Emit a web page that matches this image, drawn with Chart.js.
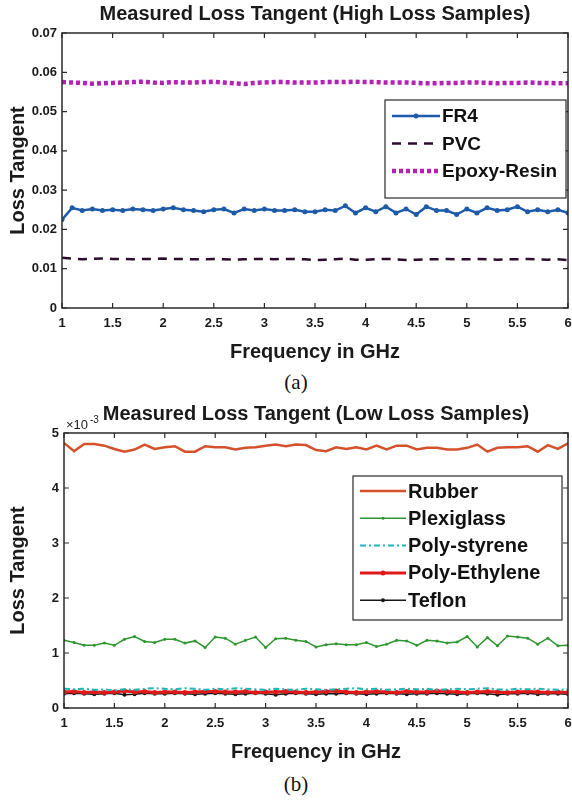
<!DOCTYPE html>
<html lang="en">
<head>
    <meta charset="UTF-8">
    <title>Measured Loss Tangent</title>
    <script src="https://cdn.jsdelivr.net/npm/chart.js@4.4.0/dist/chart.umd.min.js"></script>
    <style>
        body { margin: 0; background: #fff; width: 572px; height: 803px; position: relative; overflow: hidden; }
        canvas { position: absolute; left: 0; }
        .cap { position: absolute; left: 0; width: 592px; text-align: center; font-family: "Liberation Serif", "Times New Roman", serif; font-size: 21px; color: #111; }
    </style>
</head>
<body>

    <canvas id="chartA" width="572" height="365" style="top:0"></canvas>
    <div class="cap" style="top:370px">(a)</div>
    <canvas id="chartB" width="572" height="365" style="top:400px"></canvas>
    <div class="cap" style="top:772px">(b)</div>

    <script>
        // frequency points (GHz)
        const freq = [1.0, 1.1, 1.2, 1.3, 1.4, 1.5, 1.6, 1.7, 1.8, 1.9,
                      2.0, 2.1, 2.2, 2.3, 2.4, 2.5, 2.6, 2.7, 2.8, 2.9,
                      3.0, 3.1, 3.2, 3.3, 3.4, 3.5, 3.6, 3.7, 3.8, 3.9,
                      4.0, 4.1, 4.2, 4.3, 4.4, 4.5, 4.6, 4.7, 4.8, 4.9,
                      5.0, 5.1, 5.2, 5.3, 5.4, 5.5, 5.6, 5.7, 5.8, 5.9, 6.0];

        // ---- (a) high loss samples
        const fr4 = [0.0225, 0.0255, 0.0248, 0.0252, 0.0248, 0.0250, 0.0248, 0.0252, 0.0250, 0.0248,
                     0.0252, 0.0255, 0.0250, 0.0248, 0.0245, 0.0250, 0.0252, 0.0242, 0.0252, 0.0248,
                     0.0252, 0.0248, 0.0248, 0.0250, 0.0245, 0.0245, 0.0250, 0.0248, 0.0260, 0.0242,
                     0.0255, 0.0245, 0.0258, 0.0242, 0.0252, 0.0238, 0.0258, 0.0248, 0.0248, 0.0238,
                     0.0252, 0.0242, 0.0255, 0.0248, 0.0250, 0.0258, 0.0245, 0.0250, 0.0245, 0.0250, 0.0242];
        const pvc = [0.0128, 0.0126, 0.0124, 0.0125, 0.0126, 0.0125, 0.0125, 0.0124, 0.0125, 0.0125,
                     0.0126, 0.0125, 0.0125, 0.0124, 0.0124, 0.0125, 0.0124, 0.0123, 0.0124, 0.0125,
                     0.0125, 0.0124, 0.0125, 0.0125, 0.0124, 0.0122, 0.0123, 0.0124, 0.0126, 0.0123,
                     0.0123, 0.0124, 0.0125, 0.0124, 0.0122, 0.0123, 0.0124, 0.0124, 0.0125, 0.0124,
                     0.0124, 0.0125, 0.0124, 0.0123, 0.0124, 0.0124, 0.0125, 0.0124, 0.0123, 0.0124, 0.0122];
        const epoxy = [0.0575, 0.0574, 0.0573, 0.0571, 0.0572, 0.0573, 0.0574, 0.0575, 0.0576, 0.0574,
                       0.0573, 0.0575, 0.0574, 0.0574, 0.0575, 0.0576, 0.0574, 0.0572, 0.0570, 0.0573,
                       0.0574, 0.0575, 0.0575, 0.0574, 0.0574, 0.0574, 0.0575, 0.0575, 0.0575, 0.0576,
                       0.0575, 0.0575, 0.0574, 0.0574, 0.0574, 0.0573, 0.0572, 0.0572, 0.0573, 0.0573,
                       0.0574, 0.0574, 0.0573, 0.0572, 0.0573, 0.0573, 0.0574, 0.0573, 0.0573, 0.0572, 0.0572];
        const yTicksA = [0, 0.01, 0.02, 0.03, 0.04, 0.05, 0.06, 0.07];

        // ---- (b) low loss samples, in units of 1e-3
        const rubber = [4.82, 4.67, 4.80, 4.80, 4.77, 4.71, 4.66, 4.70, 4.79, 4.71,
                        4.74, 4.76, 4.66, 4.66, 4.76, 4.74, 4.74, 4.70, 4.73, 4.74,
                        4.77, 4.79, 4.76, 4.79, 4.78, 4.69, 4.67, 4.74, 4.71, 4.74,
                        4.70, 4.77, 4.70, 4.77, 4.77, 4.70, 4.73, 4.73, 4.70, 4.70,
                        4.73, 4.79, 4.66, 4.73, 4.74, 4.74, 4.76, 4.66, 4.78, 4.71, 4.81];
        const plexiglass = [1.23, 1.19, 1.14, 1.14, 1.18, 1.14, 1.25, 1.30, 1.21, 1.19,
                            1.25, 1.25, 1.18, 1.22, 1.10, 1.29, 1.27, 1.16, 1.23, 1.29,
                            1.10, 1.26, 1.27, 1.23, 1.21, 1.11, 1.15, 1.17, 1.15, 1.15,
                            1.19, 1.12, 1.16, 1.23, 1.22, 1.14, 1.23, 1.22, 1.18, 1.20,
                            1.30, 1.11, 1.28, 1.13, 1.31, 1.29, 1.27, 1.16, 1.27, 1.13, 1.14];
        const polystyrene = [0.35, 0.34, 0.35, 0.33, 0.34, 0.32, 0.34, 0.33, 0.35, 0.36,
                             0.35, 0.34, 0.36, 0.35, 0.33, 0.35, 0.34, 0.36, 0.35, 0.34,
                             0.33, 0.35, 0.34, 0.33, 0.35, 0.34, 0.33, 0.34, 0.35, 0.36,
                             0.34, 0.35, 0.33, 0.34, 0.35, 0.34, 0.35, 0.33, 0.34, 0.35,
                             0.34, 0.35, 0.36, 0.34, 0.33, 0.35, 0.34, 0.35, 0.34, 0.33, 0.34];
        const polyethylene = [0.29, 0.30, 0.28, 0.29, 0.28, 0.29, 0.31, 0.29, 0.30, 0.28,
                              0.29, 0.29, 0.28, 0.29, 0.30, 0.30, 0.29, 0.29, 0.30, 0.28,
                              0.29, 0.29, 0.30, 0.29, 0.28, 0.29, 0.30, 0.31, 0.29, 0.28,
                              0.29, 0.30, 0.29, 0.28, 0.30, 0.29, 0.29, 0.31, 0.30, 0.29,
                              0.28, 0.29, 0.30, 0.29, 0.28, 0.29, 0.30, 0.29, 0.28, 0.29, 0.28];
        const teflon = [0.26, 0.27, 0.26, 0.25, 0.26, 0.27, 0.24, 0.25, 0.27, 0.26,
                        0.26, 0.27, 0.26, 0.25, 0.26, 0.27, 0.26, 0.25, 0.26, 0.27,
                        0.26, 0.24, 0.26, 0.27, 0.26, 0.25, 0.26, 0.26, 0.27, 0.26,
                        0.25, 0.26, 0.27, 0.26, 0.25, 0.26, 0.26, 0.27, 0.26, 0.25,
                        0.26, 0.27, 0.26, 0.24, 0.26, 0.26, 0.27, 0.25, 0.26, 0.26, 0.25];
        const yTicksB = [0, 1, 2, 3, 4, 5];
        const xTicks = [1, 1.5, 2, 2.5, 3, 3.5, 4, 4.5, 5, 5.5, 6];

        function pts(arr) {
            return arr.map((v, i) => ({ x: freq[i], y: v }));
        }

        const FONT = '"Liberation Sans", Arial, sans-serif';

        // matlab style box, inward ticks, title and legend inside the plot
        const matlabBox = {
            id: 'matlabBox',
            afterDraw(chart, args, opts) {
                const ctx = chart.ctx;
                const a = chart.chartArea;
                const xs = chart.scales.x, ys = chart.scales.y;
                ctx.save();
                ctx.strokeStyle = '#2a2a2a';
                ctx.lineWidth = 1.5;
                ctx.strokeRect(a.left, a.top, a.right - a.left, a.bottom - a.top);
                ctx.lineWidth = 1.2;
                ctx.beginPath();
                xTicks.forEach(t => {
                    const px = xs.getPixelForValue(t);
                    ctx.moveTo(px, a.bottom); ctx.lineTo(px, a.bottom - 5);
                    ctx.moveTo(px, a.top); ctx.lineTo(px, a.top + 5);
                });
                opts.yTicks.forEach(t => {
                    const py = ys.getPixelForValue(t);
                    ctx.moveTo(a.left, py); ctx.lineTo(a.left + 5, py);
                    ctx.moveTo(a.right, py); ctx.lineTo(a.right - 5, py);
                });
                ctx.stroke();

                // title
                ctx.fillStyle = '#1a1a1a';
                ctx.font = 'bold 20px ' + FONT;
                ctx.textAlign = 'center';
                ctx.textBaseline = 'middle';
                ctx.fillText(opts.title, (a.left + a.right) / 2, opts.titleY);

                if (opts.exponent) {
                    ctx.font = '13px ' + FONT;
                    ctx.textAlign = 'left';
                    ctx.fillText('\u00d710', a.left + 2, a.top - 8);
                    ctx.font = '10px ' + FONT;
                    ctx.fillText('-3', a.left + 26, a.top - 13);
                }

                // legend
                const L = opts.legend;
                ctx.fillStyle = '#fff';
                ctx.fillRect(L.x, L.y, L.w, L.h);
                ctx.strokeStyle = '#2a2a2a';
                ctx.lineWidth = 1.2;
                ctx.strokeRect(L.x, L.y, L.w, L.h);
                chart.data.datasets.forEach((ds, i) => {
                    const cy = L.y + L.first + i * L.row;
                    const x0 = L.x + 7, x1 = L.x + 7 + L.sample;
                    ctx.strokeStyle = ds.borderColor;
                    ctx.lineWidth = ds.borderWidth;
                    ctx.setLineDash(ds.borderDash || []);
                    ctx.beginPath();
                    ctx.moveTo(x0, cy); ctx.lineTo(x1, cy);
                    ctx.stroke();
                    ctx.setLineDash([]);
                    if (ds.pointRadius > 0) {
                        ctx.fillStyle = ds.borderColor;
                        ctx.beginPath();
                        ctx.arc((x0 + x1) / 2, cy, ds.pointRadius, 0, Math.PI * 2);
                        ctx.fill();
                    }
                    ctx.fillStyle = '#111';
                    ctx.font = 'bold ' + L.font + 'px ' + FONT;
                    ctx.textAlign = 'left';
                    ctx.fillText(ds.label, x1 + 2, cy + 1);
                });
                ctx.restore();
            }
        };

        function makeChart(id, datasets, yMax, yTicks, yFmt, box) {
            return new Chart(document.getElementById(id), {
                type: 'line',
                data: { datasets: datasets },
                options: {
                    responsive: false,
                    animation: false,
                    devicePixelRatio: 1,
                    layout: { padding: { top: 33, right: 4, left: 0, bottom: 0 } },
                    plugins: {
                        legend: { display: false },
                        title: { display: false },
                        tooltip: { enabled: false },
                        matlabBox: box
                    },
                    scales: {
                        x: {
                            type: 'linear', min: 1, max: 6,
                            afterBuildTicks: s => { s.ticks = xTicks.map(v => ({ value: v })); },
                            afterFit: s => { s.height = 57; s.paddingLeft = 0; s.paddingRight = 0; },
                            grid: { display: false, drawTicks: false },
                            border: { display: false },
                            ticks: {
                                padding: 8, color: '#1a1a1a',
                                font: { family: FONT, size: 13, weight: 'bold' },
                                callback: v => String(v)
                            },
                            title: {
                                display: true, text: 'Frequency in GHz', color: '#1a1a1a',
                                font: { family: FONT, size: 20, weight: 'bold' },
                                padding: { top: 0, bottom: 1 }
                            }
                        },
                        y: {
                            min: 0, max: yMax,
                            afterBuildTicks: s => { s.ticks = yTicks.map(v => ({ value: v })); },
                            afterFit: s => { s.width = box.left; s.paddingTop = 0; s.paddingBottom = 0; },
                            grid: { display: false, drawTicks: false },
                            border: { display: false },
                            ticks: {
                                padding: 5, color: '#1a1a1a',
                                font: { family: FONT, size: 13, weight: 'bold' },
                                callback: yFmt
                            },
                            title: {
                                display: true, text: 'Loss Tangent', color: '#1a1a1a',
                                font: { family: FONT, size: 20, weight: 'bold' },
                                padding: { top: 6, bottom: 0 }
                            }
                        }
                    }
                },
                plugins: [matlabBox]
            });
        }

        makeChart('chartA', [
            { label: 'FR4', data: pts(fr4), borderColor: '#1d5aa8', backgroundColor: '#1d5aa8',
              borderWidth: 2.5, pointRadius: 2.5, pointBorderWidth: 0, tension: 0 },
            { label: 'PVC', data: pts(pvc), borderColor: '#2b0d2b', borderWidth: 2.5,
              borderDash: [9, 7], pointRadius: 0, tension: 0 },
            { label: 'Epoxy-Resin', data: pts(epoxy), borderColor: '#b521b5', borderWidth: 4.5,
              borderDash: [4, 3], pointRadius: 0, tension: 0 }
        ], 0.07, yTicksA, v => v === 0 ? '0' : v.toFixed(2), {
            left: 62,
            title: 'Measured Loss Tangent (High Loss Samples)', titleY: 14,
            yTicks: yTicksA,
            legend: { x: 385, y: 100, w: 181, h: 98, first: 16, row: 27.5, sample: 48, font: 19 }
        });

        makeChart('chartB', [
            { label: 'Rubber', data: pts(rubber), borderColor: '#d4512b', borderWidth: 2.5,
              pointRadius: 0, tension: 0 },
            { label: 'Plexiglass', data: pts(plexiglass), borderColor: '#2f962f', backgroundColor: '#2f962f',
              borderWidth: 1.5, pointRadius: 1.5, pointBorderWidth: 0, tension: 0 },
            { label: 'Poly-styrene', data: pts(polystyrene), borderColor: '#22b4b4', borderWidth: 2,
              borderDash: [6, 3, 2, 3], pointRadius: 0, tension: 0 },
            { label: 'Poly-Ethylene', data: pts(polyethylene), borderColor: '#e01a1a', backgroundColor: '#e01a1a',
              borderWidth: 3, pointRadius: 2.5, pointBorderWidth: 0, tension: 0 },
            { label: 'Teflon', data: pts(teflon), borderColor: '#161616', backgroundColor: '#161616',
              borderWidth: 1.5, pointRadius: 2, pointBorderWidth: 0, tension: 0 }
        ], 5, yTicksB, v => String(v), {
            left: 64,
            title: 'Measured Loss Tangent (Low Loss Samples)', titleY: 14,
            yTicks: yTicksB, exponent: true,
            legend: { x: 353, y: 76, w: 209, h: 144, first: 15, row: 27.3, sample: 46, font: 20 }
        });
    </script>

</body>
</html>
